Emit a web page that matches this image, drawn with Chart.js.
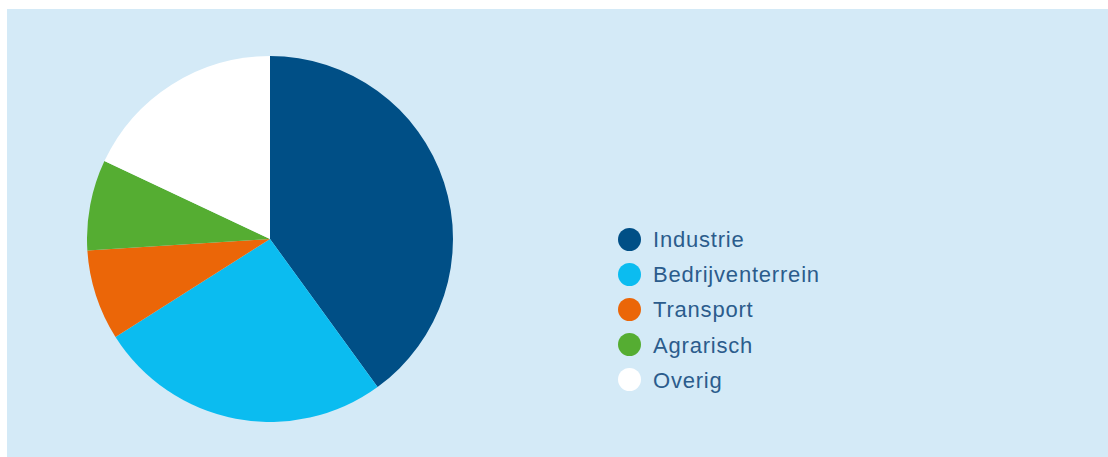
<!DOCTYPE html>
<html>
<head>
<meta charset="utf-8">
<script src="https://cdn.jsdelivr.net/npm/chart.js@4"></script>
<style>
html,body{margin:0;padding:0;background:#fff;width:1108px;height:457px;overflow:hidden;}
#panel{position:absolute;left:7px;top:9px;right:0;bottom:0;background:#d4eaf7;}
#pie{position:absolute;left:80px;top:47px;width:366px;height:366px;}
#legend{position:absolute;left:611px;top:213px;font-family:"Liberation Sans",Arial,sans-serif;font-size:22px;letter-spacing:0.8px;color:#2b5c8c;}
#legend div{height:35.2px;line-height:35.2px;white-space:nowrap;}
#legend span{display:inline-block;width:23px;height:23px;border-radius:50%;vertical-align:middle;margin-right:12px;position:relative;top:-2px;}
</style>
</head>
<body>
<div id="panel">
  <div id="pie"><canvas id="chart"></canvas></div>
  <div id="legend"></div>
</div>
<script>
let labels=['Industrie','Bedrijventerrein','Transport','Agrarisch','Overig'];
let values=[40,26,8,8,18];
let colors=['#004f86','#0bbcf0','#eb6608','#55ad32','#ffffff'];

const ctx=document.getElementById('chart').getContext('2d');
const chart=new Chart(ctx,{
  type:'pie',
  data:{
    labels:labels,
    datasets:[{data:values,backgroundColor:colors,borderWidth:0}]
  },
  options:{
    responsive:true,
    maintainAspectRatio:false,
    animation:false,
    layout:{padding:0},
    plugins:{legend:{display:false},tooltip:{enabled:false}}
  }
});

// legend built from the same arrays
let html='';
labels.forEach(function(l,i){
  html+='<div><span style="background:'+colors[i]+'"></span>'+l+'</div>';
});
document.getElementById('legend').innerHTML=html;
</script>
</body>
</html>
